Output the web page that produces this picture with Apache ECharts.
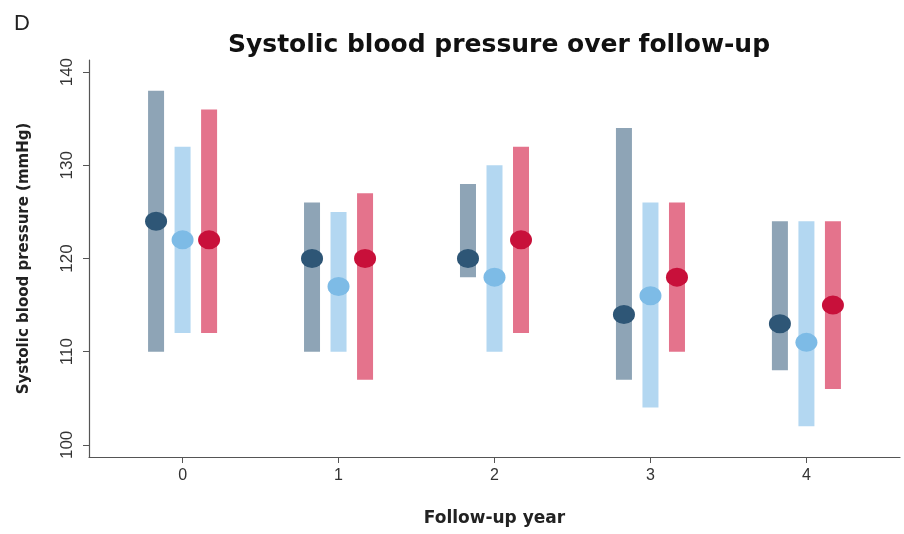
<!DOCTYPE html>
<html>
<head>
<meta charset="utf-8">
<script src="https://cdn.jsdelivr.net/npm/echarts@6/dist/echarts.min.js"></script>
<style>
  html, body { margin: 0; padding: 0; background: #fff; }
  #chart { width: 904px; height: 534px; }
</style>
</head>
<body>
<div id="chart"></div>
<script>
// Follow-up years on the x axis
const years = [0, 1, 2, 3, 4];
const yTicks = [100, 110, 120, 130, 140];

// Group 1 (dark blue): mean and range
const g1Mean = [124, 120, 120, 114, 113];
const g1Low  = [110, 110, 118, 107, 108];
const g1High = [138, 126, 128, 134, 124];

// Group 2 (light blue)
const g2Mean = [122, 117, 118, 116, 111];
const g2Low  = [112, 110, 110, 104, 102];
const g2High = [132, 125, 130, 126, 124];

// Group 3 (red)
const g3Mean = [122, 120, 122, 118, 115];
const g3Low  = [112, 107, 112, 110, 106];
const g3High = [136, 127, 132, 126, 124];

const groups = [
  { name: 'Group 1', mean: g1Mean, low: g1Low, high: g1High, offset: -0.17, bar: '#8ea4b6', dot: '#2e5676' },
  { name: 'Group 2', mean: g2Mean, low: g2Low, high: g2High, offset: 0.0,  bar: '#b3d7f1', dot: '#7dbbe6' },
  { name: 'Group 3', mean: g3Mean, low: g3Low, high: g3High, offset: 0.17, bar: '#e4738c', dot: '#c8103a' }
];

const boldFont = 'DejaVu Sans, Liberation Sans, sans-serif';
const plainFont = 'Liberation Sans, Arial, sans-serif';

const series = [];
groups.forEach(g => {
  // range bar from low to high
  series.push({
    name: g.name,
    type: 'custom',
    data: years.map((x, i) => [x + g.offset, g.low[i], g.high[i]]),
    renderItem: function (params, api) {
      const p0 = api.coord([api.value(0), api.value(2)]);
      const p1 = api.coord([api.value(0), api.value(1)]);
      const w = 16;
      return {
        type: 'rect',
        shape: { x: p0[0] - w / 2, y: p0[1], width: w, height: p1[1] - p0[1] },
        style: { fill: g.bar }
      };
    },
    encode: { x: 0, y: [1, 2] },
    z: 2
  });
  // mean marker
  series.push({
    name: g.name + ' mean',
    type: 'scatter',
    data: years.map((x, i) => [x + g.offset, g.mean[i]]),
    symbol: 'circle',
    symbolSize: [22, 19],
    itemStyle: { color: g.dot, opacity: 1 },
    z: 3
  });
});

const chart = echarts.init(document.getElementById('chart'), null, { renderer: 'canvas' });
chart.setOption({
  animation: false,
  backgroundColor: '#ffffff',
  textStyle: { fontFamily: plainFont },
  title: [
    {
      text: 'D',
      left: 9, top: 8,
      textStyle: { fontSize: 22, fontWeight: 'normal', color: '#222', fontFamily: plainFont }
    },
    {
      text: 'Systolic blood pressure over follow-up',
      left: 494, top: 28, textAlign: 'center',
      textStyle: { fontSize: 25, fontWeight: 'bold', color: '#111', fontFamily: boldFont }
    }
  ],
  grid: { left: 89, right: 4, top: 60, bottom: 77, containLabel: false },
  xAxis: {
    type: 'value',
    min: -0.6, max: 4.6,
    name: 'Follow-up year',
    nameLocation: 'middle',
    nameGap: 53,
    nameTextStyle: { fontSize: 17, fontWeight: 'bold', color: '#222', fontFamily: boldFont },
    axisLine: { show: true, onZero: false, lineStyle: { color: '#555', width: 1.2 } },
    axisTick: { show: true, length: 6, customValues: years, lineStyle: { color: '#555' } },
    axisLabel: { customValues: years, fontSize: 16, color: '#333', margin: 11 },
    splitLine: { show: false }
  },
  yAxis: {
    type: 'value',
    min: 98.7, max: 141.3,
    name: 'Systolic blood pressure (mmHg)',
    nameLocation: 'middle',
    nameGap: 57,
    nameTextStyle: { fontSize: 15, fontWeight: 'bold', color: '#222', fontFamily: boldFont },
    axisLine: { show: true, onZero: false, lineStyle: { color: '#555', width: 1.2 } },
    axisTick: { show: true, length: 6, customValues: yTicks, lineStyle: { color: '#555' } },
    axisLabel: { customValues: yTicks, fontSize: 17, color: '#333', rotate: 90, margin: 13 },
    splitLine: { show: false }
  },
  series: series
});
</script>
</body>
</html>
